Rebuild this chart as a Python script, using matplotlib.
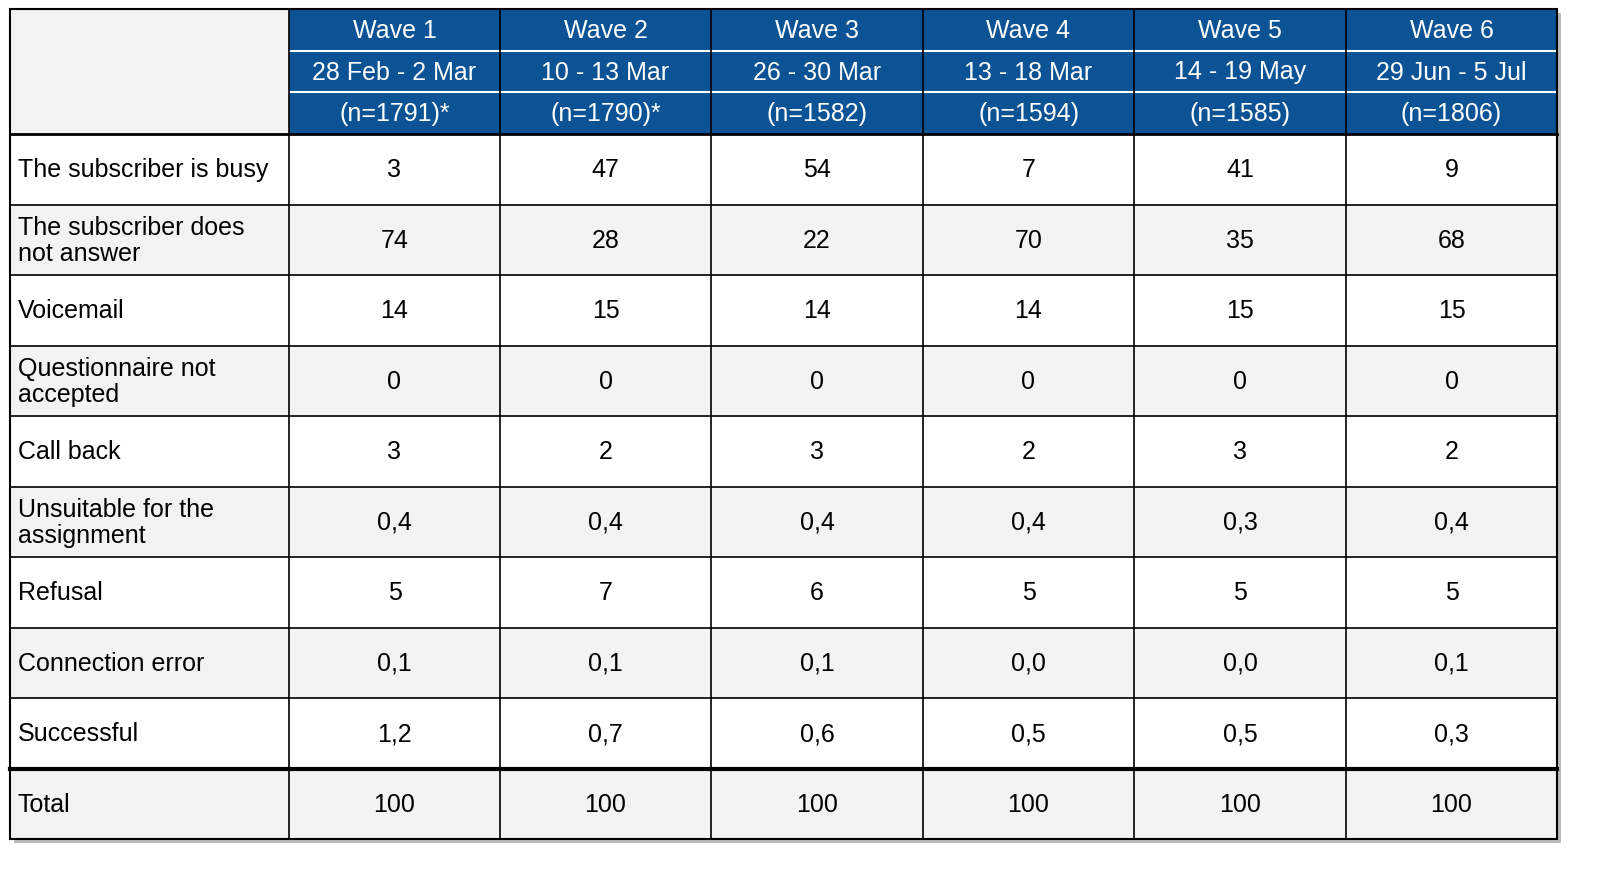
import matplotlib
matplotlib.use("Agg")
import matplotlib.pyplot as plt
from matplotlib.patches import Rectangle

plt.rcParams["font.family"] = ["Liberation Sans", "DejaVu Sans"]

waves = ["Wave 1", "Wave 2", "Wave 3", "Wave 4", "Wave 5", "Wave 6"]
dates = ["28 Feb - 2 Mar", "10 - 13 Mar", "26 - 30 Mar", "13 - 18 Mar", "14 - 19 May", "29 Jun - 5 Jul"]
ns = ["(n=1791)*", "(n=1790)*", "(n=1582)", "(n=1594)", "(n=1585)", "(n=1806)"]

row_labels = ["The subscriber is busy", "The subscriber does\nnot answer", "Voicemail",
              "Questionnaire not\naccepted", "Call back", "Unsuitable for the\nassignment",
              "Refusal", "Connection error", "Successful", "Total"]
values = [
    ["3", "47", "54", "7", "41", "9"],
    ["74", "28", "22", "70", "35", "68"],
    ["14", "15", "14", "14", "15", "15"],
    ["0", "0", "0", "0", "0", "0"],
    ["3", "2", "3", "2", "3", "2"],
    ["0,4", "0,4", "0,4", "0,4", "0,3", "0,4"],
    ["5", "7", "6", "5", "5", "5"],
    ["0,1", "0,1", "0,1", "0,0", "0,0", "0,1"],
    ["1,2", "0,7", "0,6", "0,5", "0,5", "0,3"],
    ["100", "100", "100", "100", "100", "100"],
]

W, H = 1602, 870
BLUE = "#0b5394"
GRAY = "#f3f3f3"
FS = 18
col_x = [10, 289, 500, 711, 923, 1134, 1346, 1557]
head_y = [10, 52, 93, 135]
row_h = 70.5
top, bottom = 135, 840

fig = plt.figure(figsize=(W / 100, H / 100), dpi=100)
ax = fig.add_axes([0, 0, 1, 1])
ax.set_xlim(0, W)
ax.set_ylim(H, 0)
ax.axis("off")

# shadow
ax.add_patch(Rectangle((14, 14), col_x[-1] - 10, bottom - 10, fc="#bbbbbb", ec="none", zorder=0))

# header
ax.add_patch(Rectangle((10, 10), col_x[1] - 10, top - 10, fc=GRAY, ec="none", zorder=1))
ax.add_patch(Rectangle((col_x[1], 10), col_x[-1] - col_x[1], top - 10, fc=BLUE, ec="none", zorder=1))
for k, texts in enumerate([waves, dates, ns]):
    yc = (head_y[k] + head_y[k + 1]) / 2
    for j, t in enumerate(texts):
        ax.text((col_x[j + 1] + col_x[j + 2]) / 2, yc, t, ha="center", va="center",
                color="white", fontsize=FS, zorder=3)
for y in head_y[1:3]:
    ax.plot([col_x[1], col_x[-1]], [y, y], color="white", lw=1.5, zorder=2)
for x in col_x[2:-1]:
    ax.plot([x, x], [10, top], color="black", lw=1.2, zorder=2)

# body
for i, lab in enumerate(row_labels):
    y0 = top + i * row_h
    fc = GRAY if i % 2 == 1 else "white"
    ax.add_patch(Rectangle((10, y0), col_x[-1] - 10, row_h, fc=fc, ec="none", zorder=1))
    yc = y0 + row_h / 2
    ax.text(18, yc, lab, ha="left", va="center", fontsize=FS, linespacing=1.1, zorder=3)
    for j, v in enumerate(values[i]):
        ax.text((col_x[j + 1] + col_x[j + 2]) / 2, yc, v, ha="center", va="center",
                fontsize=FS, zorder=3)
    if i > 0:
        lw = 3 if i == len(row_labels) - 1 else 1.2
        ax.plot([10, col_x[-1]], [y0, y0], color="black", lw=lw, zorder=2)

ax.plot([10, col_x[-1]], [top, top], color="black", lw=2, zorder=2)
for x in col_x[1:-1]:
    ax.plot([x, x], [top, bottom], color="black", lw=1.2, zorder=2)
ax.add_patch(Rectangle((10, 10), col_x[-1] - 10, bottom - 10, fc="none", ec="black", lw=1.5, zorder=4))
ax.plot([col_x[1], col_x[1]], [10, top], color="black", lw=1.2, zorder=2)

fig.savefig("out.png", dpi=100)
